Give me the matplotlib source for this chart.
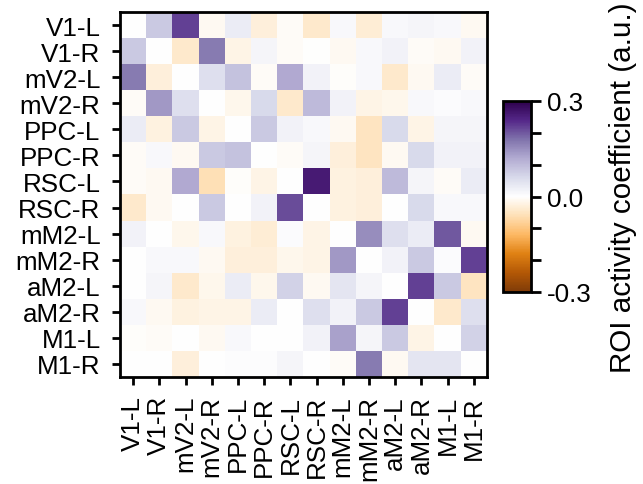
import numpy as np
import matplotlib
matplotlib.use("Agg")
import matplotlib.pyplot as plt
from matplotlib.colors import LinearSegmentedColormap

plt.rcParams['font.family'] = ['Liberation Sans', 'DejaVu Sans']

rois = ["V1-L", "V1-R", "mV2-L", "mV2-R", "PPC-L", "PPC-R", "RSC-L", "RSC-R",
        "mM2-L", "mM2-R", "aM2-L", "aM2-R", "M1-L", "M1-R"]

row_V1L  = [0.00, 0.08, 0.22, -0.01, 0.03, -0.03, -0.005, -0.04, 0.01, -0.035, 0.01, 0.015, 0.01, -0.01]
row_V1R  = [0.08, 0.00, -0.04, 0.17, -0.02, 0.015, -0.005, -0.002, -0.01, 0.01, 0.02, -0.005, -0.01, 0.02]
row_mV2L = [0.17, -0.03, 0.00, 0.05, 0.09, -0.005, 0.12, 0.02, -0.003, 0.01, -0.04, -0.01, 0.03, -0.005]
row_mV2R = [-0.005, 0.14, 0.05, 0.00, -0.015, 0.06, -0.04, 0.10, 0.02, -0.02, -0.015, 0.01, 0.005, 0.01]
row_PPCL = [0.03, -0.025, 0.08, -0.02, 0.00, 0.08, 0.02, 0.01, -0.01, -0.05, 0.06, -0.02, 0.015, 0.015]
row_PPCR = [-0.005, 0.01, -0.01, 0.08, 0.09, 0.00, -0.005, 0.015, -0.03, -0.05, -0.01, 0.06, 0.02, 0.02]
row_RSCL = [-0.005, -0.01, 0.12, -0.06, -0.003, -0.02, 0.00, 0.26, -0.025, -0.03, 0.10, 0.015, -0.005, 0.03]
row_RSCR = [-0.04, -0.01, 0.00, 0.08, 0.00, 0.02, 0.21, 0.00, -0.025, -0.03, 0.00, 0.06, 0.01, 0.01]
row_mM2L = [0.02, 0.00, -0.015, 0.01, -0.025, -0.035, 0.005, -0.02, 0.00, 0.15, 0.05, 0.03, 0.20, -0.01]
row_mM2R = [0.00, 0.01, 0.01, -0.01, -0.03, -0.03, -0.015, -0.02, 0.14, 0.00, 0.02, 0.08, 0.005, 0.22]
row_aM2L = [0.00, 0.015, -0.04, -0.015, 0.03, -0.015, 0.07, -0.01, 0.04, 0.015, 0.00, 0.22, 0.08, -0.05]
row_aM2R = [0.01, -0.01, -0.025, -0.02, -0.02, 0.03, 0.00, 0.05, 0.02, 0.08, 0.22, 0.00, -0.04, 0.05]
row_M1L  = [-0.003, -0.005, 0.00, -0.01, 0.01, 0.00, 0.00, 0.02, 0.13, 0.015, 0.08, -0.02, 0.00, 0.07]
row_M1R  = [0.00, 0.00, -0.03, 0.00, 0.003, 0.003, 0.015, 0.00, -0.005, 0.17, -0.01, 0.04, 0.04, 0.00]

M = np.array([row_V1L, row_V1R, row_mV2L, row_mV2R, row_PPCL, row_PPCR, row_RSCL,
              row_RSCR, row_mM2L, row_mM2R, row_aM2L, row_aM2R, row_M1L, row_M1R])

cbar_ticks = [-0.3, -0.2, -0.1, 0.0, 0.1, 0.2, 0.3]
cbar_labels = ["-0.3", "", "", "0.0", "", "", "0.3"]

cmap = LinearSegmentedColormap.from_list("puor_w", [
    "#7f3b08", "#b35806", "#e08214", "#fdb863", "#fee0b6", "#ffffff",
    "#d8daeb", "#b2abd2", "#8073ac", "#542788", "#2d004b"])

FS = 18.7

fig = plt.figure(figsize=(6.43, 4.85), dpi=100)
ax = fig.add_axes([120/643, 1-378/485, 367/643, 365/485])
im = ax.imshow(M, cmap=cmap, vmin=-0.3, vmax=0.3, aspect="auto",
               interpolation="nearest")
ax.set_xticks(range(len(rois)))
ax.set_yticks(range(len(rois)))
ax.set_xticklabels(rois, rotation=90, fontsize=FS)
ax.set_yticklabels(rois, fontsize=FS)
for s in ax.spines.values():
    s.set_linewidth(2)
ax.tick_params(axis="both", width=2, length=6)
ax.tick_params(axis="y", pad=8)
ax.tick_params(axis="x", pad=7)

cax = fig.add_axes([503/643, 1-293/485, 28/643, 191/485])
cb = fig.colorbar(im, cax=cax)
cb.set_ticks(cbar_ticks)
cb.set_ticklabels(cbar_labels)
cb.outline.set_linewidth(2)
cax.tick_params(width=2, length=7.5, labelsize=FS, pad=4)

fig.text(623/643, 1-188/485, "ROI activity coefficient (a.u.)", fontsize=21.3,
         rotation=90, ha="center", va="center")

fig.savefig("out.png", dpi=100)
